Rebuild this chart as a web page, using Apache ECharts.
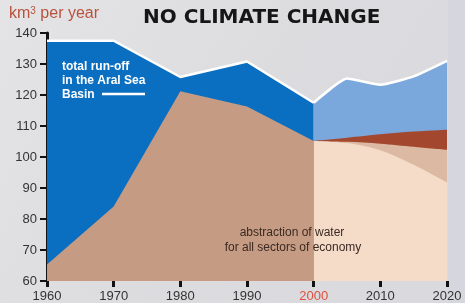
<!DOCTYPE html>
<html>
<head>
<meta charset="utf-8">
<script src="https://cdn.jsdelivr.net/npm/echarts@6/dist/echarts.min.js"></script>
<style>
html,body{margin:0;padding:0;}
#main{width:465px;height:303px;}
</style>
</head>
<body>
<div id="main"></div>
<script>
// data (km3 per year)
var years1 = [1960, 1970, 1980, 1990, 2000];
var runoff1 = [137.5, 137.5, 125.8, 130.8, 117.5];
var abstraction1 = [65.3, 84, 121.2, 116.3, 105.2];

var years2 = [2000, 2005, 2010, 2015, 2020];
var runoff2 = [117.5, 125.3, 123.3, 126, 131];
var topRed = [105.2, 106.2, 107.3, 108.2, 108.8];
var topTan = [105.2, 104.9, 104.3, 103.3, 102.3];
var topPeach = [105.2, 104.5, 102.2, 97.5, 91.8];

var yTicks = [60, 70, 80, 90, 100, 110, 120, 130, 140];

function pairs(xs, ys){
	var out = [];
	for (var i = 0; i < xs.length; i++) out.push([xs[i], ys[i]]);
	return out;
}

function area(name, xs, ys, color, line, smooth){
	return {
		name: name,
		type: 'line',
		data: pairs(xs, ys),
		symbol: 'none',
		silent: true,
		smooth: smooth || false,
		lineStyle: line ? { color: '#ffffff', width: 2.5 } : { width: 0 },
		areaStyle: { color: color, opacity: 1, origin: 'start' }
	};
}

var chart = echarts.init(document.getElementById('main'));
var option = {
	backgroundColor: {
		type: 'linear', x: 0, y: 0, x2: 1, y2: 1,
		colorStops: [
			{ offset: 0, color: '#e4e4e6' },
			{ offset: 0.5, color: '#dcdcdf' },
			{ offset: 1, color: '#d9d9de' }
		]
	},
	animation: false,
	title: {
		text: 'NO CLIMATE CHANGE',
		left: 138, top: 3,
		textStyle: { fontFamily: 'DejaVu Sans', fontWeight: 'bold', fontSize: 20, color: '#161616' }
	},
	grid: { left: 47, right: 18, top: 33, bottom: 21 },
	xAxis: {
		type: 'value',
		min: 1960, max: 2020, interval: 10,
		axisLine: { show: false },
		axisTick: { show: true, length: 6, inside: false, lineStyle: { color: '#111', width: 3 } },
		splitLine: { show: false },
		axisLabel: {
			margin: 9,
			fontFamily: 'Liberation Sans', fontSize: 13, color: '#333',
			formatter: function(v){ return v === 2000 ? '{r|2000}' : String(v); },
			rich: { r: { color: '#e0503c', fontFamily: 'Liberation Sans', fontSize: 13 } }
		}
	},
	yAxis: {
		type: 'value',
		min: yTicks[0], max: yTicks[yTicks.length - 1], interval: 10,
		axisLine: { show: true, lineStyle: { color: '#111', width: 3 } },
		axisTick: { show: true, length: 7, lineStyle: { color: '#111', width: 2 } },
		splitLine: { show: false },
		axisLabel: { margin: 10, fontFamily: 'Liberation Sans', fontSize: 13, color: '#333' }
	},
	series: [
		area('total run-off', years1, runoff1, '#0b6fc1', true),
		area('total run-off 2000-2020', years2, runoff2, '#7ba8dc', true, 0.15),
		area('red', years2, topRed, '#a3482f', false, 0.3),
		area('tan', years2, topTan, '#dcb9a2', false, 0.3),
		area('peach', years2, topPeach, '#f4dcc9', false, 0.3),
		area('abstraction', years1, abstraction1, '#c59b83', false)
	],
	graphic: [
		{ type: 'rect', left: 448, top: 0, shape: { width: 17, height: 303 }, style: { fill: '#d6d6de' }, z: -1 },
		{ type: 'text', left: 9, top: 6, z: 10, style: { text: 'km{s|3} per year', fill: '#b9523c', font: '16px "Liberation Sans"',
			rich: { s: { fontSize: 10, verticalAlign: 'top', fill: '#b9523c', padding: [0, 0, 6, 0] } } } },
		{ type: 'text', left: 62, top: 60, z: 10, style: { text: 'total run-off\nin the Aral Sea\nBasin', fill: '#ffffff',
			font: 'bold 12px "Liberation Sans"', lineHeight: 14 } },
		{ type: 'line', z: 10, shape: { x1: 102, y1: 94, x2: 145, y2: 94 }, style: { stroke: '#ffffff', lineWidth: 2.5 } },
		{ type: 'text', z: 10, style: { x: 292, y: 233, text: 'abstraction of water', fill: '#3a2a22',
			font: '12px "Liberation Sans"', align: 'center', verticalAlign: 'middle' } },
		{ type: 'text', z: 10, style: { x: 293, y: 248, text: 'for all sectors of economy', fill: '#3a2a22',
			font: '12px "Liberation Sans"', align: 'center', verticalAlign: 'middle' } }
	]
};
chart.setOption(option);
</script>
</body>
</html>
